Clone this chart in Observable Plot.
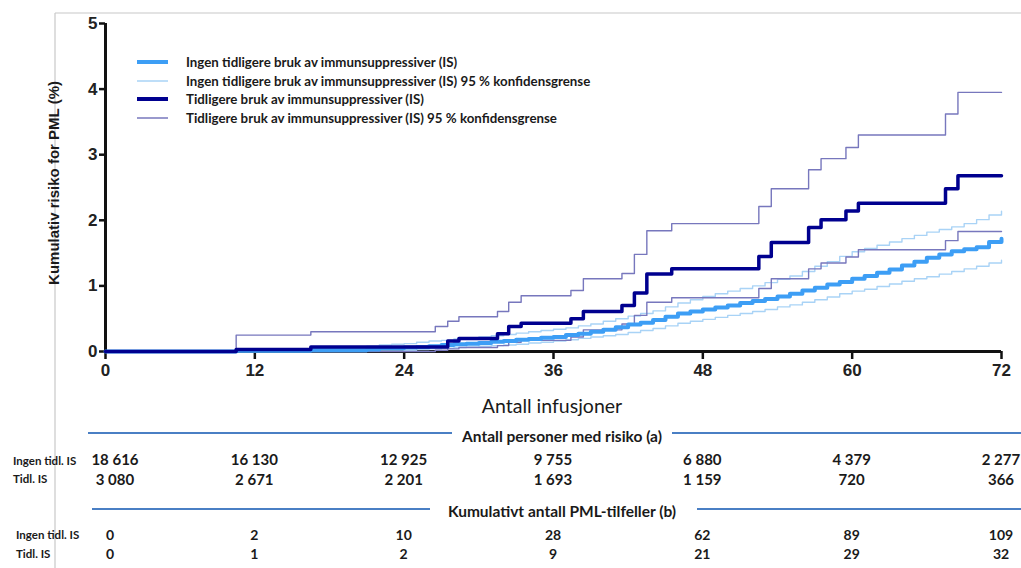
<!DOCTYPE html>
<html><head><meta charset="utf-8">
<script src="https://cdn.jsdelivr.net/npm/d3@7"></script>
<script src="https://cdn.jsdelivr.net/npm/@observablehq/plot@0.6"></script>
<style>
html,body{margin:0;padding:0;background:#fff;}
#chart{width:1021px;height:568px;}
</style>
</head><body><div id="chart"></div>
<script>
// ---- data ----
const xTicks = [0, 12, 24, 36, 48, 60, 72];
const yTicks = [0, 1, 2, 3, 4, 5];

const naiveT = [0,10.5,16.5,21,22,23,24,25,26,27,28,29,30,31,32,33,34,35,36,37,38,39,40,41,42,43,44,45,46,47,48,49,50,51,52,53,54,55,56,57,58,59,60,61,62,63,64,65,66,67,68,69,70,71,72];
const naiveMain = [0,0.01,0.02,0.03,0.05,0.05,0.06,0.07,0.08,0.10,0.11,0.12,0.13,0.15,0.16,0.18,0.19,0.21,0.22,0.25,0.27,0.30,0.33,0.37,0.41,0.44,0.48,0.53,0.58,0.61,0.64,0.67,0.70,0.74,0.77,0.80,0.84,0.88,0.93,0.97,1.02,1.06,1.11,1.15,1.20,1.25,1.31,1.37,1.43,1.48,1.53,1.56,1.59,1.67,1.72];
const naiveHi = [0,0.03,0.05,0.08,0.10,0.11,0.12,0.14,0.16,0.17,0.19,0.20,0.22,0.24,0.26,0.28,0.30,0.32,0.34,0.36,0.39,0.42,0.46,0.50,0.54,0.58,0.62,0.68,0.74,0.79,0.84,0.88,0.92,0.96,1.00,1.05,1.10,1.15,1.22,1.30,1.37,1.45,1.52,1.57,1.62,1.67,1.72,1.77,1.82,1.86,1.90,1.95,2.01,2.08,2.14];
const naiveLo = [0,0,0,0.01,0.01,0.01,0.02,0.03,0.04,0.05,0.06,0.07,0.08,0.09,0.10,0.11,0.13,0.14,0.16,0.18,0.20,0.22,0.24,0.26,0.29,0.32,0.35,0.39,0.43,0.46,0.49,0.52,0.55,0.58,0.61,0.64,0.68,0.71,0.75,0.79,0.83,0.88,0.92,0.95,0.99,1.03,1.07,1.11,1.14,1.18,1.22,1.26,1.30,1.35,1.39];

const priorT = [0,10.5,16.5,26.5,27.5,28.4,31.5,32.4,33.4,37.4,38.4,41.5,42.5,43.5,45.5,52.5,53.5,56.5,57.5,59.5,60.5,67.5,68.5,72];
const priorMain = [0,0.03,0.07,0.07,0.16,0.20,0.27,0.38,0.43,0.50,0.61,0.70,0.89,1.18,1.26,1.45,1.66,1.89,2.01,2.14,2.26,2.48,2.68,2.68];
const priorHi = [0.01,0.25,0.30,0.38,0.46,0.53,0.61,0.75,0.85,0.93,1.11,1.19,1.48,1.84,1.95,2.21,2.48,2.77,2.94,3.11,3.30,3.62,3.95,3.95];
const priorLo = [0,0,0,0.02,0.04,0.06,0.09,0.14,0.17,0.22,0.33,0.42,0.55,0.75,0.82,0.96,1.11,1.26,1.35,1.44,1.55,1.69,1.83,1.83];

const legendLabels = [
  "Ingen tidligere bruk av immunsuppressiver (IS)",
  "Ingen tidligere bruk av immunsuppressiver (IS) 95 % konfidensgrense",
  "Tidligere bruk av immunsuppressiver (IS)",
  "Tidligere bruk av immunsuppressiver (IS) 95 % konfidensgrense"
];
const atRiskNaive = ["18 616","16 130","12 925","9 755","6 880","4 379","2 277"];
const atRiskPrior = ["3 080","2 671","2 201","1 693","1 159","720","366"];
const pmlNaive = ["0","2","10","28","62","89","109"];
const pmlPrior = ["0","1","2","9","21","29","32"];
const rowLabels = ["Ingen tidl. IS", "Tidl. IS"];

// ---- styles ----
const C_NAIVE = "#3d9ef5", C_NAIVE_CI = "#a9d3f6", C_PRIOR = "#00008f", C_PRIOR_CI = "#7777bd";

const toRows = (t, v) => t.map((x, i) => ({x, y: v[i]}));

const plot = Plot.plot({
  width: 1021, height: 568,
  marginLeft: 105, marginRight: 20, marginTop: 23, marginBottom: 217,
  x: {domain: [0, 72], axis: null},
  y: {domain: [0, 5], axis: null},
  style: {fontFamily: "'Liberation Sans', Arial, sans-serif", fontWeight: "bold", fontSize: "17px", color: "#222", background: "transparent"},
  marks: [
    Plot.axisY(yTicks, {tickSize: 6, tickPadding: 2, stroke: "#111", strokeWidth: 2.5, fill: "#222", fontSize: 17, label: null, tickFormat: d => String(d)}),
    Plot.axisX(xTicks, {tickSize: 8, tickPadding: 4, stroke: "#111", strokeWidth: 2.5, fill: "#222", fontSize: 17, label: null, tickFormat: d => String(d)}),
    Plot.ruleX([0], {stroke: "#111", strokeWidth: 3}),
    Plot.ruleY([0], {stroke: "#111", strokeWidth: 3}),
    Plot.line(toRows(naiveT, naiveHi), {x: "x", y: "y", curve: "step-after", stroke: C_NAIVE_CI, strokeWidth: 1.4}),
    Plot.line(toRows(naiveT, naiveLo), {x: "x", y: "y", curve: "step-after", stroke: C_NAIVE_CI, strokeWidth: 1.4}),
    Plot.line(toRows(priorT, priorHi), {x: "x", y: "y", curve: "step-after", stroke: C_PRIOR_CI, strokeWidth: 1.4}),
    Plot.line(toRows(priorT, priorLo), {x: "x", y: "y", curve: "step-after", stroke: C_PRIOR_CI, strokeWidth: 1.4}),
    Plot.line(toRows(naiveT, naiveMain), {x: "x", y: "y", curve: "step-after", stroke: C_NAIVE, strokeWidth: 4}),
    Plot.line(toRows(priorT, priorMain), {x: "x", y: "y", curve: "step-after", stroke: C_PRIOR, strokeWidth: 3.5})
  ]
});

const svg = d3.select(plot);
const xs = plot.scale("x");
const X = v => xs.apply(v);

// frame lines
svg.insert("line", ":first-child").attr("x1", 55).attr("x2", 55).attr("y1", 13).attr("y2", 568).attr("stroke", "#c8c8c8").attr("stroke-width", 1.2);
svg.insert("line", ":first-child").attr("x1", 55).attr("x2", 1021).attr("y1", 13).attr("y2", 13).attr("stroke", "#c8c8c8").attr("stroke-width", 1.2);

const txt = (x, y, s, o = {}) => svg.append("text")
  .attr("x", x).attr("y", y).attr("dominant-baseline", "central")
  .attr("text-anchor", o.anchor || "start")
  .attr("font-family", o.family || "Lato, 'Open Sans', sans-serif")
  .attr("font-size", o.size || 14)
  .attr("font-weight", o.weight || "bold")
  .attr("fill", o.fill || "#1a1a1a")
  .attr("transform", o.transform || null)
  .text(s);

// y label
txt(0, 0, "Kumulativ risiko for PML (%)", {anchor: "middle", family: "'Liberation Sans', Arial, sans-serif", size: 15, transform: "translate(53,183) rotate(-90)"});
// x label
txt(552, 405, "Antall infusjoner", {anchor: "middle", size: 19.5, weight: "normal"});

// legend
const legendStyles = [[C_NAIVE, 4], [C_NAIVE_CI, 1.5], [C_PRIOR, 4], [C_PRIOR_CI, 1.5]];
const legendY = [62, 81, 99, 118];
legendLabels.forEach((lab, i) => {
  svg.append("line").attr("x1", 137).attr("x2", 168).attr("y1", legendY[i]).attr("y2", legendY[i])
    .attr("stroke", legendStyles[i][0]).attr("stroke-width", legendStyles[i][1]);
  txt(186, legendY[i], lab, {size: 13.3});
});

// table
const LINE_C = "#4a7fc4";
const hline = (x1, x2, y) => svg.append("line").attr("x1", x1).attr("x2", x2).attr("y1", y).attr("y2", y).attr("stroke", LINE_C).attr("stroke-width", 1.8);
hline(88, 452, 433); hline(672, 1021, 433);
txt(562, 436, "Antall personer med risiko (a)", {anchor: "middle", size: 15.5});
hline(92, 430, 509); hline(697, 1021, 509);
txt(562, 511, "Kumulativt antall PML-tilfeller (b)", {anchor: "middle", size: 15.5});

txt(13, 460, rowLabels[0], {size: 11.5});
txt(13, 478, rowLabels[1], {size: 11.5});
txt(16, 534, rowLabels[0], {size: 11.5});
txt(16, 553, rowLabels[1], {size: 11.5});

const colX = xTicks.map((t, i) => X(t) + (i === 0 ? 10 : 0));
atRiskNaive.forEach((s, i) => txt(colX[i], 459, s, {anchor: "middle", size: 15}));
atRiskPrior.forEach((s, i) => txt(colX[i], 479, s, {anchor: "middle", size: 15}));
pmlNaive.forEach((s, i) => txt(X(xTicks[i]) + (i === 0 ? 5 : 0), 534, s, {anchor: "middle", size: 14}));
pmlPrior.forEach((s, i) => txt(X(xTicks[i]) + (i === 0 ? 5 : 0), 553, s, {anchor: "middle", size: 14}));

document.getElementById("chart").appendChild(plot);
</script>
</body></html>
